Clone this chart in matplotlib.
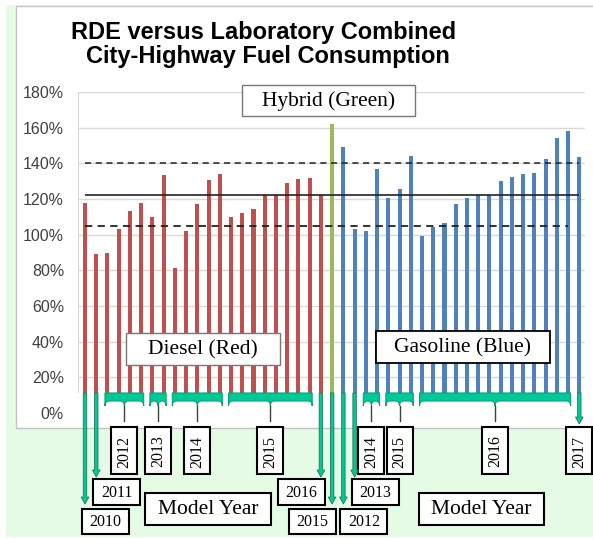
import matplotlib.pyplot as plt
from matplotlib.patches import Rectangle, PathPatch
from matplotlib.path import Path

# RDE / lab fuel consumption ratio (%), one bar per vehicle
diesel = [118, 89, 90, 103, 113.5, 117.5, 110, 133.5, 81.5, 102, 117, 130.5,
          134, 110, 112, 114.5, 122, 122, 129, 131, 132, 122]
hybrid = [162]
gasoline = [149, 103, 102, 137, 120.5, 125.5, 144, 99, 104.5, 106.5, 117,
            120.5, 122.5, 122.5, 130, 132.5, 134, 134.5, 142.5, 154, 158, 143.5]

# model years and how many bars belong to each
diesel_years = ['2010', '2011', '2012', '2013', '2014', '2015', '2016']
diesel_counts = [1, 1, 4, 2, 5, 8, 1]
hybrid_years = ['2015']
hybrid_counts = [1]
gas_years = ['2012', '2013', '2014', '2015', '2016', '2017']
gas_counts = [1, 1, 2, 3, 14, 1]

avg_line = 122.2
upper_line = 140.4
lower_line = 104.6

yticks = list(range(0, 181, 20))
ytick_labels = ['%d%%' % t for t in yticks]

RED = '#c0504d'
GREEN = '#9bbb59'
BLUE = '#4f81bd'
BRACE = '#00c896'
SERIF = 'Liberation Serif'

fig = plt.figure(figsize=(5.93, 5.39), dpi=100)

# background (pixel coordinates, y downwards)
bg = fig.add_axes([0, 0, 1, 1], zorder=0)
bg.set_xlim(0, 593)
bg.set_ylim(539, 0)
bg.axis('off')
bg.add_patch(Rectangle((6, 5), 587, 532, fc='#e6fbe6', ec='none'))
bg.add_patch(Rectangle((16, 6), 580, 422, fc='white', ec='#c4c4c4', lw=1))

# main chart
ax = fig.add_axes([78 / 593, 126 / 539, 507 / 593, 321 / 539], zorder=1)
ax.patch.set_alpha(0)
n_d, n_h, n_g = len(diesel), len(hybrid), len(gasoline)
xd = list(range(n_d))
xh = list(range(n_d, n_d + n_h))
xg = list(range(n_d + n_h, n_d + n_h + n_g))
w = 0.36
ax.bar(xd, diesel, width=w, color=RED, zorder=2)
ax.bar(xh, hybrid, width=w, color=GREEN, zorder=2)
ax.bar(xg, gasoline, width=w, color=BLUE, zorder=2)

last = n_d + n_h + n_g - 1
ax.hlines(avg_line, 0, last, color='#222222', lw=1.2, zorder=3)
ax.hlines(upper_line, 0, last, color='#222222', lw=1.1, linestyles=(0, (4, 3)), zorder=3)
ax.hlines(lower_line, 0, last - 1, color='#222222', lw=1.3, linestyles=(0, (4, 3)), zorder=3)

ax.set_ylim(0, 180)
ax.set_xlim(-0.623, 44.508)
ax.set_yticks(yticks, ytick_labels)
ax.tick_params(axis='y', length=0, pad=10, labelsize=11.5, labelcolor='#404040')
for lab in ax.get_yticklabels():
    lab.set_family('Liberation Sans')
ax.set_xticks([])
for s in ['top', 'right', 'bottom']:
    ax.spines[s].set_visible(False)
ax.spines['left'].set_color('#d9d9d9')
ax.grid(axis='y', color='#d9d9d9', lw=1)
ax.set_axisbelow(True)
# white strip below the bars where the year braces sit
ax.add_patch(Rectangle((-0.623, -7.3), 45.2, 18.5, fc='white', ec='none',
                       zorder=4, clip_on=False))

# foreground overlay for the annotations
fg = fig.add_axes([0, 0, 1, 1], zorder=2)
fg.set_xlim(0, 593)
fg.set_ylim(539, 0)
fg.axis('off')
fg.patch.set_alpha(0)


def bar_px(i):
    return ax.transData.transform((i, 0))[0]


def box(x0, y0, x1, y1, text, size=15.5, lw=1.0, ec='#555555', rot=0):
    fg.add_patch(Rectangle((x0, y0), x1 - x0, y1 - y0, fc='white', ec=ec, lw=lw))
    fg.text((x0 + x1) / 2, (y0 + y1) / 2 + 1, text, ha='center', va='center',
            rotation=rot, family=SERIF, fontsize=size, color='black')


def brace(x0, x1):
    xc = (x0 + x1) / 2
    verts = [(x0, 393), (x1, 393), (x1, 406),
             (x1, 401), (x1 - 4, 401),
             (xc + 4, 401),
             (xc, 401), (xc, 406),
             (xc, 401), (xc - 4, 401),
             (x0 + 4, 401),
             (x0, 401), (x0, 406),
             (x0, 393)]
    codes = [Path.MOVETO, Path.LINETO, Path.LINETO,
             Path.CURVE3, Path.CURVE3,
             Path.LINETO,
             Path.CURVE3, Path.CURVE3,
             Path.CURVE3, Path.CURVE3,
             Path.LINETO,
             Path.CURVE3, Path.CURVE3,
             Path.CLOSEPOLY]
    fg.add_patch(PathPatch(Path(verts, codes), fc=BRACE, ec='#00a57c', lw=0.8))
    fg.plot([xc, xc], [406, 421], color='#404040', lw=1)
    return xc


def arrow(x, y_end):
    fg.annotate('', xy=(x, y_end), xytext=(x, 393),
                arrowprops=dict(arrowstyle='simple,head_length=0.5,head_width=0.55,tail_width=0.25',
                                fc=BRACE, ec='#1e7a5a', lw=0.6, shrinkA=0, shrinkB=0))


# where each single-vehicle year label goes
single_layout = [('low', 'left'), ('mid', 'left'), ('mid', 'right'),
                 ('low', 'right'), ('low', 'left'), ('mid', 'left'), ('short', None)]
levels = {'low': (504, 509, 534), 'mid': (477, 479, 505)}

start = 0
k = 0
for years, counts in [(diesel_years, diesel_counts), (hybrid_years, hybrid_counts),
                      (gas_years, gas_counts)]:
    for yr, c in zip(years, counts):
        i0, i1 = start, start + c - 1
        if c > 1:
            xc = brace(bar_px(i0) - 2.5, bar_px(i1) + 2.5)
            box(xc - 13, 427, xc + 13, 474, yr, size=11.5, lw=1.5, ec='black', rot=90)
        else:
            x = bar_px(i0)
            lvl, side = single_layout[k]
            k += 1
            if lvl == 'short':
                arrow(x, 424)
                box(x - 13, 427, x + 13, 474, yr, size=11.5, lw=1.5, ec='black', rot=90)
            else:
                tip, y0, y1 = levels[lvl]
                arrow(x, tip)
                bx0 = x - 3 if side == 'left' else x + 4 - 47
                box(bx0, y0, bx0 + 47, y1, yr, size=11.5, lw=1.5, ec='black')
        start += c

box(242, 85, 415, 116, 'Hybrid (Green)', ec='#777777')
box(126, 333, 280, 365, 'Diesel (Red)', ec='#777777')
box(376, 331, 550, 363, 'Gasoline (Blue)', lw=1.3, ec='black')
box(145, 493, 271, 525, 'Model Year', lw=1.5, ec='black')
box(419, 493, 544, 525, 'Model Year', lw=1.5, ec='black')

fg.text(264, 39, 'RDE versus Laboratory Combined', ha='center', va='baseline',
        family='Liberation Sans', fontweight='bold', fontsize=17, color='black')
fg.text(268, 63, 'City-Highway Fuel Consumption', ha='center', va='baseline',
        family='Liberation Sans', fontweight='bold', fontsize=17, color='black')

fig.savefig('out.png', dpi=100)
